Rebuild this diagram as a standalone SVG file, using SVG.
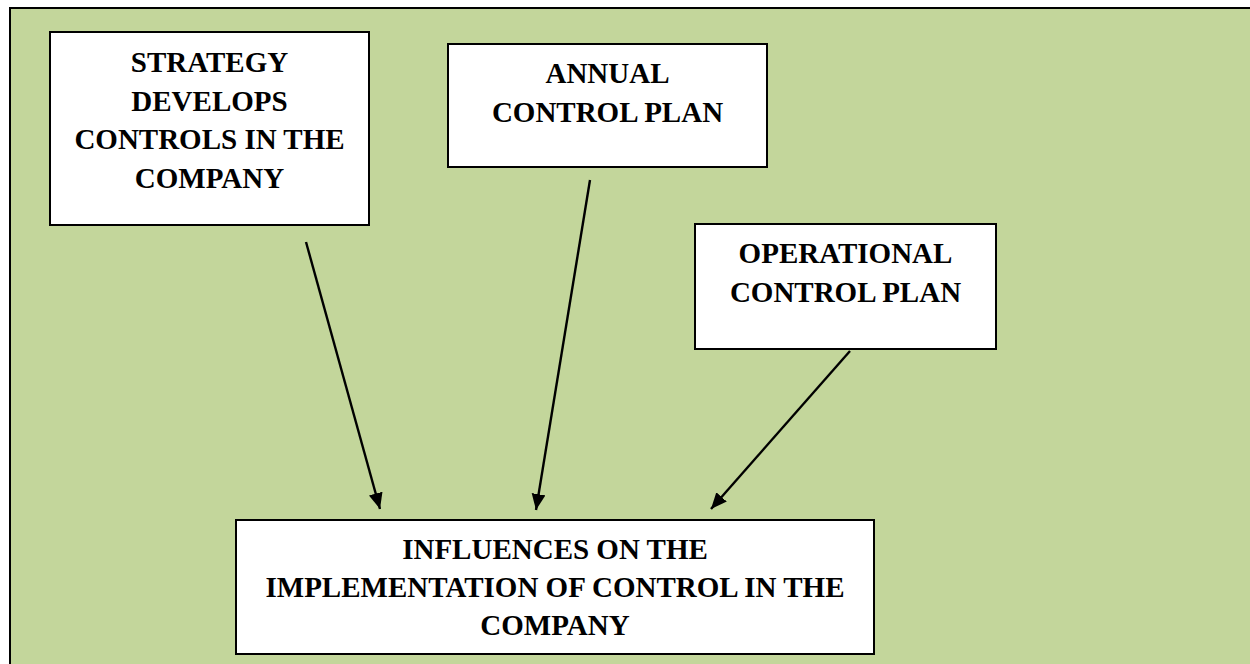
<svg xmlns="http://www.w3.org/2000/svg" width="1250" height="664" viewBox="0 0 1250 664">
  <defs>
    <marker id="arrow" markerUnits="userSpaceOnUse" markerWidth="18" markerHeight="16" refX="16" refY="7" orient="auto">
      <path d="M0,0 L16,7 L0,14 z" fill="#000"/>
    </marker>
  </defs>
  <style>
    .box { fill: #ffffff; stroke: #000000; stroke-width: 2; }
    .lbl { font-family: "Liberation Serif", "Times New Roman", serif; font-weight: bold; font-size: 29px; fill: #000; text-anchor: middle; }
    .conn { stroke: #000; stroke-width: 2.4; fill: none; marker-end: url(#arrow); }
  </style>
  <rect x="0" y="0" width="1250" height="664" fill="#ffffff"/>
  <rect id="background" x="10" y="8" width="1260" height="680" fill="#c3d69b" stroke="#000" stroke-width="2"/>

  <g id="node-strategy">
    <rect class="box" x="50" y="32" width="319" height="193"/>
    <text class="lbl" x="209.5" y="72">STRATEGY</text>
    <text class="lbl" x="209.5" y="110.5">DEVELOPS</text>
    <text class="lbl" x="209.5" y="149">CONTROLS IN THE</text>
    <text class="lbl" x="209.5" y="187.5">COMPANY</text>
  </g>

  <g id="node-annual">
    <rect class="box" x="448" y="44" width="319" height="123"/>
    <text class="lbl" x="607.5" y="83">ANNUAL</text>
    <text class="lbl" x="607.5" y="122">CONTROL PLAN</text>
  </g>

  <g id="node-operational">
    <rect class="box" x="695" y="224" width="301" height="125"/>
    <text class="lbl" x="845.5" y="263">OPERATIONAL</text>
    <text class="lbl" x="845.5" y="302">CONTROL PLAN</text>
  </g>

  <g id="node-influences">
    <rect class="box" x="236" y="520" width="638" height="134"/>
    <text class="lbl" x="555" y="559">INFLUENCES ON THE</text>
    <text class="lbl" x="555" y="597">IMPLEMENTATION OF CONTROL IN THE</text>
    <text class="lbl" x="555" y="635">COMPANY</text>
  </g>

  <g id="connectors">
    <line class="conn" x1="306" y1="242" x2="380" y2="509"/>
    <line class="conn" x1="590" y1="180" x2="536" y2="510"/>
    <line class="conn" x1="850" y1="351" x2="711" y2="509"/>
  </g>
</svg>
